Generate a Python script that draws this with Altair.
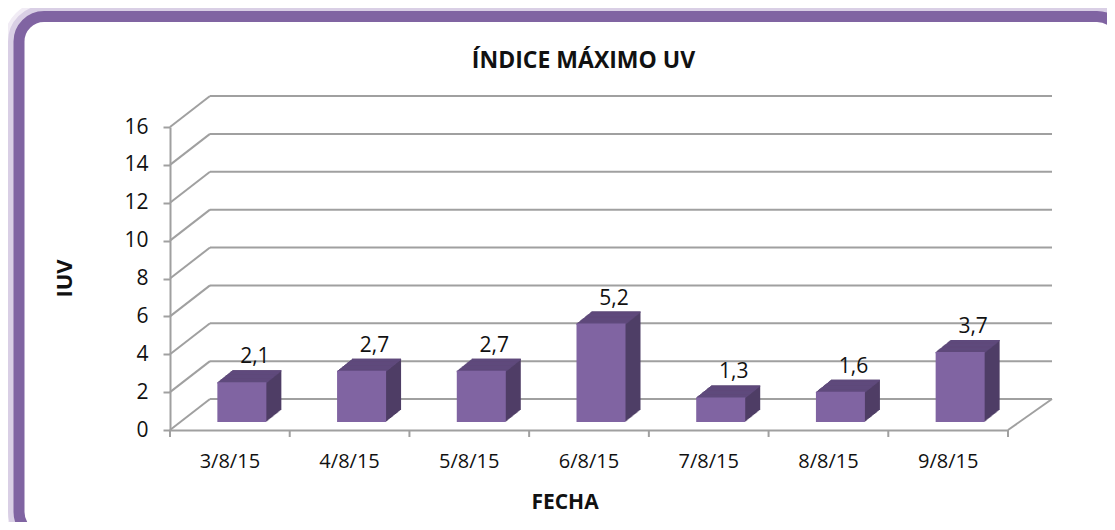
import altair as alt
import pandas as pd

# ---- data ----
dates = ["3/8/15", "4/8/15", "5/8/15", "6/8/15", "7/8/15", "8/8/15", "9/8/15"]
values = [2.1, 2.7, 2.7, 5.2, 1.3, 1.6, 3.7]
y_ticks = [0, 2, 4, 6, 8, 10, 12, 14, 16]

# ---- styling / geometry ----
W, H = 838, 303
WALL_DX, WALL_DY = 40, -31        # depth of the 3-D walls
BAR_W = 49
FRONT_DX, FRONT_DY = 12, -8       # front face of the bars inside the depth
BAR_DX, BAR_DY = 15, -12          # depth of each bar
N = 15
FRONT = "#8064A2"
TOP = "#5F4A7C"
SIDE = "#4F3E66"
GRID = "#A0A0A0"
FONT = "Open Sans"
TXT = "#111111"

bars = pd.DataFrame({"date": dates, "value": values})
ticks = pd.DataFrame({"value": y_ticks})
floor = pd.DataFrame({"value": [0]})
one = pd.DataFrame({"a": [0]})

x_scale = alt.Scale(domain=dates, paddingInner=0, paddingOuter=0)
y_scale = alt.Scale(domain=[0, 16], nice=False, zero=True)

X_AX = alt.Axis(title="FECHA", labelAngle=0, ticks=False, domainColor=GRID, domainWidth=2,
                labelFont=FONT, labelFontSize=20, labelColor=TXT, labelPadding=21,
                titleFont=FONT, titleFontSize=21, titleFontWeight="bold", titleColor=TXT,
                titleX=394.5, titleY=78, titleBaseline="alphabetic", titleAnchor="middle",
                titleAlign="center", zindex=1)
Y_AX = alt.Axis(title="IUV", values=y_ticks, grid=False, tickSize=7, tickColor=GRID,
                tickWidth=2, domainColor=GRID, domainWidth=2,
                labelFont=FONT, labelFontSize=21, labelColor=TXT, labelPadding=15,
                titleFont=FONT, titleFontSize=22, titleFontWeight="bold", titleColor=TXT,
                titleX=-106, titleY=151, titleAngle=270, titleBaseline="middle",
                titleAlign="center", zindex=1)

X = alt.X("date:N", scale=x_scale, sort=dates, axis=X_AX)
Y = alt.Y("value:Q", scale=y_scale, axis=Y_AX)

layers = []

# frame (rounded purple border with soft outer glow)
for off, sw, col in [(11, 8, "#F1ECF5"), (7, 8, "#D9CFE5"), (0, 11, "#8064A2")]:
    layers.append(
        alt.Chart(one).mark_rect(fill="white" if off == 0 else None, fillOpacity=1 if off == 0 else 0,
                                 stroke=col, strokeWidth=sw, cornerRadius=25 + off)
        .encode(x=alt.value(-151 - off), x2=alt.value(952 + off),
                y=alt.value(-110.5 - off), y2=alt.value(410 + off))
    )

# back-wall gridlines
layers.append(
    alt.Chart(ticks).mark_rule(color=GRID, strokeWidth=2, yOffset=WALL_DY)
    .encode(y=Y, x=alt.value(WALL_DX), x2=alt.value(W + WALL_DX + 4))
)
# side-wall diagonals
layers.append(
    alt.Chart(ticks).mark_rule(color=GRID, strokeWidth=2, y2Offset=WALL_DY)
    .encode(y=Y, y2="value:Q", x=alt.value(0), x2=alt.value(WALL_DX))
)
# floor right edge
layers.append(
    alt.Chart(floor).mark_rule(color=GRID, strokeWidth=2, y2Offset=WALL_DY)
    .encode(y=Y, y2="value:Q", x=alt.value(W), x2=alt.value(W + WALL_DX + 4))
)
# x ticks at category boundaries
layers.append(
    alt.Chart(bars).mark_rule(color=GRID, strokeWidth=2)
    .encode(x=alt.X("date:N", scale=x_scale, sort=dates, axis=X_AX, bandPosition=0),
            y=alt.value(H), y2=alt.value(H + 7))
)
layers.append(
    alt.Chart(one).mark_rule(color=GRID, strokeWidth=2)
    .encode(x=alt.value(W), y=alt.value(H), y2=alt.value(H + 7))
)

# bar bodies: sweep of dark rectangles (side face)
for i in range(N, 0, -1):
    fx = FRONT_DX + BAR_DX * i / N
    fy = FRONT_DY + BAR_DY * i / N
    layers.append(
        alt.Chart(bars).mark_bar(size=BAR_W, xOffset=fx, yOffset=fy, y2Offset=fy, color=SIDE)
        .encode(x=X, y=Y, y2=alt.datum(0))
    )
# top faces
for i in range(N, -1, -1):
    fx = FRONT_DX + BAR_DX * i / N
    fy = FRONT_DY + BAR_DY * i / N
    layers.append(
        alt.Chart(bars).mark_bar(size=BAR_W, xOffset=fx, yOffset=fy, y2Offset=fy + 1.3, color=TOP)
        .encode(x=X, y=Y, y2="value:Q")
    )

# front faces
layers.append(
    alt.Chart(bars).mark_bar(size=BAR_W, xOffset=FRONT_DX, yOffset=FRONT_DY,
                             y2Offset=FRONT_DY, color=FRONT)
    .encode(x=X, y=Y, y2=alt.datum(0))
)

# value labels
layers.append(
    alt.Chart(bars).transform_calculate(
        lab="replace(format(datum.value, '.1f'), '.', ',')"
    ).mark_text(dx=25, dy=-19, yOffset=FRONT_DY, baseline="alphabetic", font=FONT,
                fontSize=21, color=TXT).encode(x=X, y=Y, text="lab:N")
)

chart = alt.layer(*layers).properties(
    width=W, height=H,
    title=alt.Title("ÍNDICE MÁXIMO UV", font=FONT, fontSize=23, fontWeight="bold", color=TXT,
                    anchor="middle", dx=-5.5, baseline="alphabetic", offset=-89),
    autosize=alt.AutoSizeParams(type="none"),
    padding={"left": 162, "top": 119, "right": 99, "bottom": 92},
).configure_view(stroke=None).configure(background="white")

chart.save("out.html", embed_options={"renderer": "svg", "actions": False})
